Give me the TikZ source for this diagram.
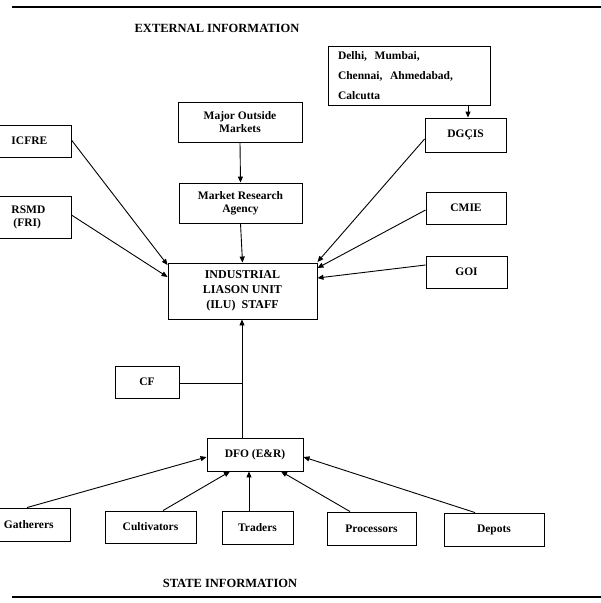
\documentclass[tikz,border=0pt]{standalone}
\usepackage{fontspec}
\setmainfont{Liberation Serif}
\usetikzlibrary{arrows.meta}
\begin{document}
\begin{tikzpicture}[x=1pt,y=-1pt,
  box/.style={draw,line width=0.9pt,inner sep=0pt,font=\bfseries\fontsize{11.5}{13}\selectfont,align=center},
  arr/.style={-{Triangle[length=6pt,width=5pt]},line width=0.9pt},
  ln/.style={line width=0.9pt},
  ttl/.style={font=\bfseries\fontsize{12.5}{14}\selectfont}]
\useasboundingbox (0,0) rectangle (601,603);
\clip (0,0) rectangle (601,603);
% rules
\draw[line width=1.6pt] (12,7) -- (601,7);
\draw[line width=1.6pt] (12,597) -- (601,597);
\node[ttl] (ext) at (217,28) {EXTERNAL INFORMATION};
\node[ttl] (st) at (230,583) {STATE INFORMATION};
% top boxes
\node[box,minimum width=162pt,minimum height=59pt,align=left,text width=142pt,font=\bfseries\fontsize{11.5}{20}\selectfont] (city) at (409,75.5) {Delhi,\ \ Mumbai,\\Chennai,\ \ Ahmedabad,\\Calcutta};
\node[box,minimum width=81pt,minimum height=34pt] (dgcis) at (465.5,135) {DGÇIS};
\node[box,minimum width=124pt,minimum height=40pt] (mom) at (240,122) {Major Outside\\Markets};
\node[box,minimum width=123pt,minimum height=40pt] (mra) at (240.5,203) {Market Research\\Agency};
\node[box,minimum width=149pt,minimum height=56pt,font=\bfseries\fontsize{12}{15}\selectfont] (ilu) at (242.5,291) {INDUSTRIAL\\LIASON UNIT\\(ILU)\ \ STAFF};
\node[box,minimum width=101pt,minimum height=32pt,text width=92pt,align=left] (icfre) at (20.5,141) {\hspace*{37pt}ICFRE};
\node[box,minimum width=101pt,minimum height=42pt,text width=92pt,align=left] (rsmd) at (20.5,217) {\hspace*{37pt}RSMD\\\hspace*{39pt}(FRI)};
\node[box,minimum width=80pt,minimum height=32pt] (cmie) at (466,208) {CMIE};
\node[box,minimum width=81pt,minimum height=32pt] (goi) at (466.5,272) {GOI};
\node[box,minimum width=64pt,minimum height=32pt] (cf) at (147,382) {CF};
\node[box,minimum width=96pt,minimum height=33pt] (dfo) at (255,454.5) {DFO (E\&R)};
% bottom boxes
\node[box,minimum width=100pt,minimum height=33pt,text width=92pt,align=left] (gat) at (20,524.5) {\hspace*{30pt}Gatherers};
\node[box,minimum width=91pt,minimum height=32pt] (cul) at (150.5,527) {Cultivators};
\node[box,minimum width=71pt,minimum height=33pt] (tra) at (257.5,527.5) {Traders};
\node[box,minimum width=89pt,minimum height=33pt] (pro) at (371.5,528.5) {Processors};
\node[box,minimum width=100pt,minimum height=33pt] (dep) at (494,529.5) {Depots};
% arrows
\draw[arr] (city.south -| 468,0) -- (dgcis.north -| 468,0);
\draw[arr] (mom.south) -- (mra.north);
\draw[arr] (mra.south) -- (ilu.north);
\draw[arr] (icfre.east |- 0,140) -- (ilu.west |- 0,265);
\draw[arr] (rsmd.east |- 0,215) -- (ilu.west |- 0,277);
\draw[arr] (dgcis.west |- 0,139) -- (ilu.east |- 0,262);
\draw[arr] (cmie.west |- 0,210) -- (ilu.east |- 0,268);
\draw[arr] (goi.west |- 0,265) -- (ilu.east |- 0,278);
\coordinate (j) at (242,383);
\draw[ln] (cf.east |- j) -- (j);
\draw[arr] (dfo.north -| j) -- (ilu.south -| j);
\draw[arr] (gat.north -| 27,0) -- (dfo.west |- 0,457);
\draw[arr] (cul.north -| 163,0) -- (dfo.south -| 230,0);
\draw[arr] (tra.north -| 249,0) -- (dfo.south -| 249,0);
\draw[arr] (pro.north -| 350,0) -- (dfo.south -| 281,0);
\draw[arr] (dep.north -| 475,0) -- (dfo.east |- 0,457);
\end{tikzpicture}
\end{document}
